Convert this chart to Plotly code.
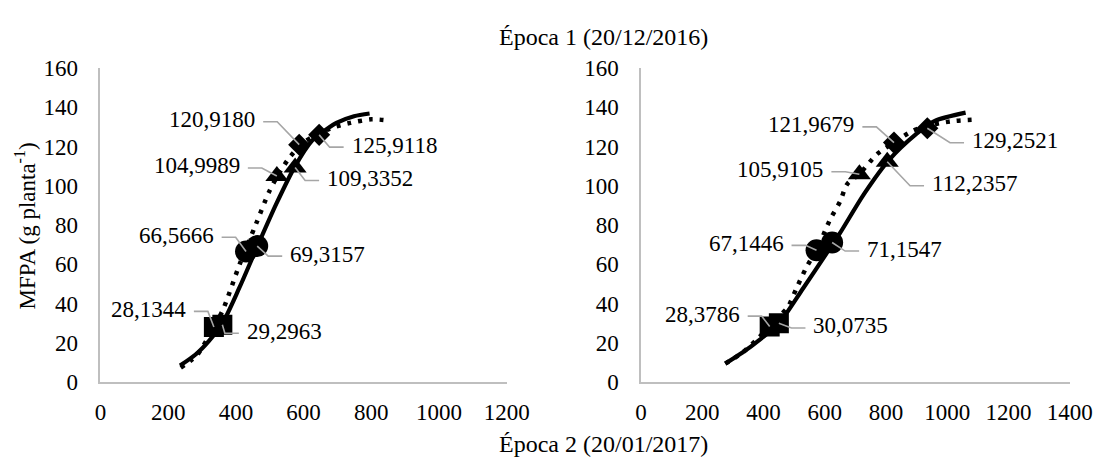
import plotly.graph_objects as go

W, H = 1119, 472

# ---------------- data ----------------
symbols = ["square", "circle", "triangle-up", "diamond"]

# left panel (0-1200)
L_xa = [335, 430, 521, 587]
L_ya = [28.1344, 66.5666, 104.9989, 120.9180]
L_xb = [360, 463, 575, 646]
L_yb = [29.2963, 69.3157, 109.3352, 125.9118]
L_dot_x = [237, 266, 286, 335, 363, 411, 460, 498, 523, 559, 600, 677, 738, 800, 836]
L_dot_y = [7.5, 11, 14, 28, 37.4, 60, 80.8, 96.9, 105, 114.5, 122, 129, 132, 133.8, 133.5]
L_sol_x = [235, 280, 320, 360, 410, 463, 520, 575, 625, 646, 697, 749, 795]
L_sol_y = [8.5, 14, 21, 30, 48, 69, 91, 110, 123, 126, 132, 135.4, 136.8]

# right panel (0-1400)
R_xa = [420, 573, 713, 826]
R_ya = [28.3786, 67.1446, 105.9105, 121.9679]
R_xb = [450, 624, 804, 935]
R_yb = [30.0735, 71.1547, 112.2357, 129.2521]
R_dot_x = [275, 330, 380, 420, 457, 480, 508, 537, 554, 573, 616, 650, 673, 713, 770, 826, 888, 957, 1024, 1091]
R_dot_y = [9.5, 15, 22, 28.4, 34.4, 38.4, 48, 57.6, 62.4, 67, 82.4, 92, 100.8, 106, 116, 122, 128, 131.3, 133, 133.7]
R_sol_x = [275, 330, 390, 450, 530, 616, 650, 729, 808, 900, 958, 1060]
R_sol_y = [9.5, 15, 22, 30, 48, 68, 76, 96, 112.8, 126.5, 132.9, 137.2]

x_ticks_L = [0, 200, 400, 600, 800, 1000, 1200]
x_ticks_R = [0, 200, 400, 600, 800, 1000, 1200, 1400]
y_ticks = [0, 20, 40, 60, 80, 100, 120, 140, 160]

title_top = "Época 1 (20/12/2016)"
title_bottom = "Época 2 (20/01/2017)"
y_title = "MFPA (g planta<sup>-1</sup>)"

# ---------------- styling ----------------
FONT = "Liberation Serif"
FS = 23
AXIS_GRAY = "#BFBFBF"
LEADER_GRAY = "#A6A6A6"
msizes = [20, 22, 20, 17]

# label offsets (pixels, screen coords: dx, dy down) relative to markers
L_off_a = [(-26, -17.6), (-30.4, -16.2), (-35, -10), (-42, -25)]
L_off_b = [(22.5, 6.5), (31, 8), (30, 11), (30.5, 10.3)]
R_off_a = [(-28, -12.4), (-31, -7), (-34, -4.4), (-37.6, -17.7)]
R_off_b = [(32.6, 2.8), (33, 6.6), (42.8, 22), (42.7, 12.5)]

def fmt(v):
    return f"{v:.4f}".replace(".", ",")

fig = go.Figure()

def add_panel(xa, ya, xb, yb, dx_, dy_, sx_, sy_, xref, yref):
    fig.add_trace(go.Scatter(x=sx_, y=sy_, mode="lines", xaxis=xref, yaxis=yref,
                             line=dict(color="black", width=4.2, shape="spline", smoothing=0.8),
                             showlegend=False, hoverinfo="skip"))
    fig.add_trace(go.Scatter(x=dx_, y=dy_, mode="lines", xaxis=xref, yaxis=yref,
                             line=dict(color="black", width=4.5, dash="4px,7px", shape="spline", smoothing=0.8),
                             showlegend=False, hoverinfo="skip"))
    for xs, ys in ((xa, ya), (xb, yb)):
        fig.add_trace(go.Scatter(x=xs, y=ys, mode="markers", xaxis=xref, yaxis=yref,
                                 marker=dict(color="black", symbol=symbols, size=msizes, opacity=1,
                                             line=dict(width=0)),
                                 showlegend=False, hoverinfo="skip"))

add_panel(L_xa, L_ya, L_xb, L_yb, L_dot_x, L_dot_y, L_sol_x, L_sol_y, "x", "y")
add_panel(R_xa, R_ya, R_xb, R_yb, R_dot_x, R_dot_y, R_sol_x, R_sol_y, "x2", "y2")

shapes = []
annotations = []

def add_labels(xs, ys, offs, side, xref, yref):
    for X, Y, (dx, dy) in zip(xs, ys, offs):
        if side == "left":
            annotations.append(dict(x=X, y=Y, xref=xref, yref=yref, text=fmt(Y), showarrow=False,
                                    xanchor="right", yanchor="middle", xshift=dx, yshift=-dy,
                                    font=dict(family=FONT, size=FS, color="black")))
            p0x, p1x = dx + 6, dx + 20
        else:
            annotations.append(dict(x=X, y=Y, xref=xref, yref=yref, text=fmt(Y), showarrow=False,
                                    xanchor="left", yanchor="middle", xshift=dx, yshift=-dy,
                                    font=dict(family=FONT, size=FS, color="black")))
            p0x, p1x = dx - 6, dx - 20
        ey = -dy - 2
        path = f"M {p0x} {ey} L {p1x} {ey} L 0 0"
        shapes.append(dict(type="path", xref=xref, yref=yref, xsizemode="pixel", ysizemode="pixel",
                           xanchor=X, yanchor=Y, path=path, layer="above",
                           line=dict(color=LEADER_GRAY, width=1.6)))

add_labels(L_xa, L_ya, L_off_a, "left", "x", "y")
add_labels(L_xb, L_yb, L_off_b, "right", "x", "y")
add_labels(R_xa, R_ya, R_off_a, "left", "x2", "y2")
add_labels(R_xb, R_yb, R_off_b, "right", "x2", "y2")

annotations.append(dict(x=613 / W, y=1 - 26 / H, xref="paper", yref="paper", text=title_top,
                        showarrow=False, xanchor="center", yanchor="middle",
                        font=dict(family=FONT, size=FS + 1, color="black")))
annotations.append(dict(x=613 / W, y=1 - 456 / H, xref="paper", yref="paper", text=title_bottom,
                        showarrow=False, xanchor="center", yanchor="middle",
                        font=dict(family=FONT, size=FS + 1, color="black")))
annotations.append(dict(x=20 / W, y=1 - 226 / H, xref="paper", yref="paper", text=y_title,
                        showarrow=False, textangle=-90, xanchor="center", yanchor="middle",
                        font=dict(family=FONT, size=FS, color="black")))

ydom = [(H - 391) / H, (H - 59) / H]
axis_common = dict(showgrid=False, zeroline=False, showline=True, linecolor=AXIS_GRAY, linewidth=1.6,
                   ticks="", tickfont=dict(family=FONT, size=FS, color="black"))

fig.update_layout(
    width=W, height=H, margin=dict(l=0, r=0, t=0, b=0),
    paper_bgcolor="white", plot_bgcolor="white", showlegend=False,
    xaxis=dict(domain=[97 / W, 514 / W], range=[0, 1200], tickvals=x_ticks_L, anchor="y",
               ticklabelstandoff=8, **axis_common),
    yaxis=dict(domain=ydom, range=[0, 160], tickvals=y_ticks, anchor="x",
               ticklabelstandoff=16, **axis_common),
    xaxis2=dict(domain=[652 / W, 1092 / W], range=[0, 1400], tickvals=x_ticks_R, anchor="y2",
                ticklabelstandoff=8, **axis_common),
    yaxis2=dict(domain=ydom, range=[0, 160], tickvals=y_ticks, anchor="x2",
                ticklabelstandoff=16, **axis_common),
    shapes=shapes, annotations=annotations,
)

fig.write_html("out.html")
